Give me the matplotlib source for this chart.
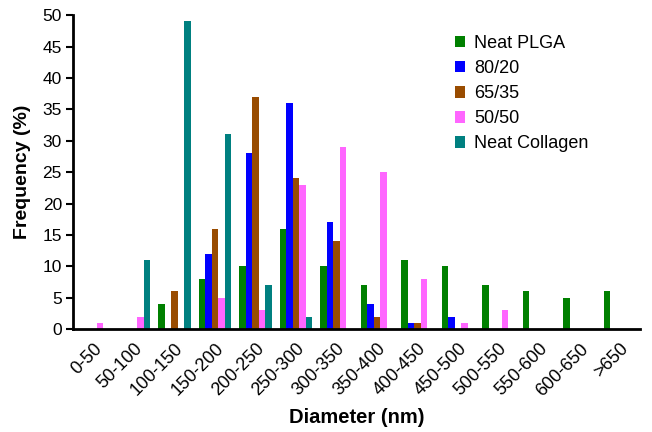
import matplotlib
matplotlib.use('Agg')
import matplotlib.pyplot as plt
import numpy as np

plt.rcParams['font.family'] = ['Liberation Sans', 'DejaVu Sans']

categories = ['0-50', '50-100', '100-150', '150-200', '200-250', '250-300', '300-350',
              '350-400', '400-450', '450-500', '500-550', '550-600', '600-650', '>650']

neat_plga = [0, 0, 4, 8, 10, 16, 10, 7, 11, 10, 7, 6, 5, 6]
pl_80_20 = [0, 0, 0, 12, 28, 36, 17, 4, 1, 2, 0, 0, 0, 0]
pl_65_35 = [0, 0, 6, 16, 37, 24, 14, 2, 1, 0, 0, 0, 0, 0]
pl_50_50 = [1, 2, 0, 5, 3, 23, 29, 25, 8, 1, 3, 0, 0, 0]
neat_collagen = [0, 11, 49, 31, 7, 2, 0, 0, 0, 0, 0, 0, 0, 0]

series = [
    ('Neat PLGA', neat_plga, '#008000'),
    ('80/20', pl_80_20, '#0000FF'),
    ('65/35', pl_65_35, '#994C00'),
    ('50/50', pl_50_50, '#FF66FF'),
    ('Neat Collagen', neat_collagen, '#008080'),
]

fig = plt.figure(figsize=(6.52, 4.32), dpi=100)
ax = fig.add_axes([0.112, 0.238, 0.870, 0.727])

x = np.arange(len(categories))
width = 0.16
for i, (name, vals, color) in enumerate(series):
    ax.bar(x + (i - 2) * width, vals, width, color=color, label=name)

ax.set_xlim(-0.5, len(categories) - 0.5)
ax.set_ylim(0, 50)
ax.set_yticks(range(0, 51, 5))
ax.set_xticks(x)
ax.set_xticklabels(categories, rotation=45, ha='right', rotation_mode='anchor', fontsize=13)
ax.tick_params(axis='y', labelsize=12.5, width=1.5, length=5, pad=3)
ax.tick_params(axis='x', length=0, pad=8)

for side in ['top', 'right']:
    ax.spines[side].set_visible(False)
for side in ['left', 'bottom']:
    ax.spines[side].set_linewidth(2)

ax.set_xlabel('Diameter (nm)', fontsize=14.5, fontweight='bold', labelpad=6)
ax.set_ylabel('Frequency (%)', fontsize=14, fontweight='bold', labelpad=8)

ax.legend(loc='upper left', bbox_to_anchor=(0.66, 0.96), frameon=False, fontsize=13,
          handlelength=0.6, handleheight=0.6, handletextpad=0.5, labelspacing=0.45,
          borderaxespad=0)

fig.savefig('out.png', dpi=100)
